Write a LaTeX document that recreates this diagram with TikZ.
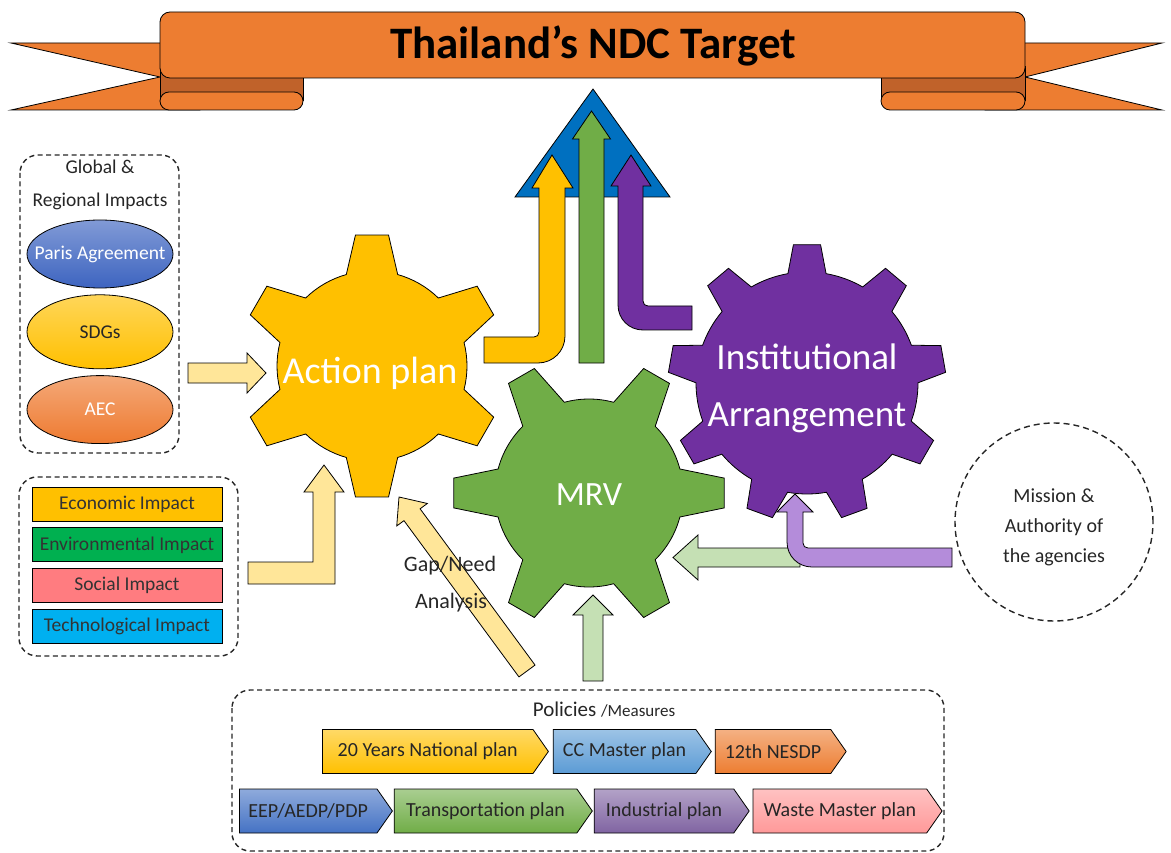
\documentclass[tikz,border=0pt]{standalone}
\usepackage{fontspec}
\setmainfont{Carlito}
\usepackage{tikz}
\usetikzlibrary{positioning,calc,shapes.geometric,shapes.symbols}

\definecolor{bandor}{HTML}{ED7D31}
\definecolor{folddk}{HTML}{C0622A}
\definecolor{ndcblue}{HTML}{0070C0}
\definecolor{gold}{HTML}{FFC000}
\definecolor{leaf}{HTML}{70AD47}
\definecolor{plum}{HTML}{7030A0}
\definecolor{paleyel}{HTML}{FFE699}
\definecolor{palegrn}{HTML}{C5E0B4}
\definecolor{palepur}{HTML}{B48CDA}
\definecolor{parisblue}{HTML}{3D64C0}
\definecolor{aecor}{HTML}{EE7A30}
\definecolor{envgreen}{HTML}{00B050}
\definecolor{socpink}{HTML}{FF7C80}
\definecolor{techblue}{HTML}{00B0F0}
\definecolor{ccblue}{HTML}{5B9BD5}
\definecolor{eepblue}{HTML}{4472C4}
\definecolor{indpurple}{HTML}{8064A2}
\definecolor{wastepink}{HTML}{FF9999}

\tikzset{
  outline/.style={draw=black, line width=0.8pt},
  dashbox/.style={draw=black!85, dash pattern=on 5pt off 3.5pt, line width=1.4pt, rounded corners=18pt},
  geartext/.style={text=white, font=\fontsize{38}{40}\selectfont},
  note/.style={text=black!85, font=\fontsize{19.5}{30}\selectfont},
  impact/.style={outline, minimum width=190pt, minimum height=34pt, inner sep=0pt, text=black!80, font=\fontsize{19.5}{22}\selectfont},
  oval/.style={ellipse, outline, minimum width=146pt, inner xsep=-15pt, inner ysep=0pt, font=\fontsize{19.5}{22}\selectfont},
  policy/.style={signal, signal to=east, signal from=nowhere, signal pointer angle=110, outline, minimum height=44pt, inner sep=0pt, text=black!85, font=\fontsize{20}{22}\selectfont},
}

% straight block arrow: style, from, to, half shaft, half head, head length
\newcommand{\blockarrow}[6][]{%
  \coordinate (ba-b) at ($(#3)!#6!(#2)$);
  \filldraw[#1] ($(#2)!#4!90:(#3)$) -- ($(ba-b)!#4!-90:(#2)$) -- ($(ba-b)!#5!-90:(#2)$) -- (#3)
    -- ($(ba-b)!#5!90:(#2)$) -- ($(ba-b)!#4!90:(#2)$) -- ($(#2)!#4!-90:(#3)$) -- cycle;
}

% gear: center, fill, teeth, body r, tip r, base half angle, tip half angle, first tooth
\newcommand{\gear}[8]{%
  \pgfmathsetmacro{\gstep}{360/#3}
  \filldraw[outline, fill=#2, shift={#1}] ({#8-#6}:#4)
    \foreach \k in {1,...,#3} {
      -- ({#8+(\k-1)*\gstep-#7}:#5) -- ({#8+(\k-1)*\gstep+#7}:#5) -- ({#8+(\k-1)*\gstep+#6}:#4)
      arc[start angle={#8+(\k-1)*\gstep+#6}, end angle={#8+\k*\gstep-#6}, radius=#4]
    } -- cycle;
}

\begin{document}
\begin{tikzpicture}[x=1pt, y=-1pt]
\useasboundingbox (0,0) rectangle (1171,853);

% banner
\filldraw[outline, fill=bandor] (200,43) -- (11,43) -- (160,77) -- (11,110) -- (200,110) -- cycle;
\filldraw[outline, fill=bandor] (985,43) -- (1162,43) -- (1025,77) -- (1162,110) -- (985,110) -- cycle;
\filldraw[outline, fill=folddk] (160,66) rectangle (303,100);
\filldraw[outline, fill=folddk] (881,66) rectangle (1025,100);
\filldraw[outline, fill=bandor, rounded corners=9pt] (160,92) rectangle (303,110);
\filldraw[outline, fill=bandor, rounded corners=9pt] (881,92) rectangle (1025,110);
\filldraw[outline, fill=bandor, rounded corners=10pt] (160,12) rectangle (1025,78);
\node[font=\bfseries\fontsize{45}{50}\selectfont] (title) at (593,46) {Thailand’s NDC Target};

% target
\filldraw[outline, fill=ndcblue] (593,89) -- (670,197) -- (515,197) -- cycle;
\filldraw[outline, fill=gold] (484,337) -- (534,337) .. controls (537,337) and (539,335) .. (539,332)
  -- (539,188) -- (532,188) -- (552,155) -- (573,188) -- (565,188) -- (565,336)
  .. controls (565,351) and (553,363) .. (538,363) -- (484,363) -- cycle;
\coordinate (mrvup) at (591.5,363);
\coordinate (goal) at (591.5,111);
\blockarrow[outline, fill=leaf]{mrvup}{goal}{12.5pt}{19pt}{28pt}
\filldraw[outline, fill=plum] (692,306) -- (648,306) .. controls (645,306) and (643,304) .. (643,301)
  -- (643,186) -- (651,186) -- (631,155) -- (611,186) -- (618,186) -- (618,305)
  .. controls (618,319) and (629,330) .. (643,330) -- (692,330) -- cycle;

% gears
\coordinate (actc) at (372,366);
\coordinate (mrvc) at (589,493);
\coordinate (instc) at (807,383);
\gear{(actc)}{gold}{6}{95}{132}{15.7}{7.2}{90}
\gear{(mrvc)}{leaf}{6}{94}{136}{14.8}{6.3}{0}
\gear{(instc)}{plum}{9}{111}{139}{9.9}{5.6}{-90}
\node[geartext, anchor=base] (act) at (370,383) {Action plan};
\node[geartext, anchor=base, font=\fontsize{34}{36}\selectfont] (mrv) at (589,505) {MRV};
\node[geartext, align=center, font=\fontsize{37}{57}\selectfont] (inst) at (807,388) {Institutional\\Arrangement};

% global & regional impacts
\draw[dashbox] (20,155) rectangle (179,453);
\node[note] (glob) at (100,167) {Global \&};
\node[note] (reg) at (100,201) {Regional Impacts};
\node[oval, minimum height=68pt, top color=parisblue!65!white, bottom color=parisblue, text=white] (paris) at (100,254) {Paris Agreement};
\node[oval, minimum height=74pt, below=6pt of paris, top color=gold!65!white, bottom color=gold, text=black!85] (sdg) {SDGs};
\node[oval, minimum height=68pt, below=6pt of sdg, top color=aecor!65!white, bottom color=aecor, text=white] (aec) {AEC};

% impacts
\draw[dashbox] (19,477) rectangle (238,656);
\node[impact, fill=gold] (econ) at (127,504) {Economic Impact};
\node[impact, fill=envgreen, below=6pt of econ] (envi) {Environmental Impact};
\node[impact, fill=socpink, below=6pt of envi] (soc) {Social Impact};
\node[impact, fill=techblue, below=6pt of soc] (tech) {Technological Impact};

% inputs
\coordinate (globout) at (188,373);
\coordinate (actin) at (266,373);
\blockarrow[outline, fill=paleyel]{globout}{actin}{10pt}{20pt}{19pt}
\filldraw[outline, fill=paleyel] (248,562) -- (313,562) -- (313,492) -- (304,492) -- (324,465)
  -- (344,492) -- (335,492) -- (335,584) -- (248,584) -- cycle;
\coordinate (gapfoot) at (527,671);
\coordinate (gaptip) at (399,497);
\blockarrow[outline, fill=paleyel]{gapfoot}{gaptip}{10pt}{19pt}{22pt}
\node[note, font=\fontsize{22}{24}\selectfont] (gap) at (450,566) {Gap/Need};
\node[note, font=\fontsize{22}{24}\selectfont] (ana) at (451,603) {Analysis};
\coordinate (polup) at (593,681);
\coordinate (mrvin) at (593,595);
\blockarrow[outline, fill=palegrn]{polup}{mrvin}{10pt}{20pt}{20pt}
\coordinate (misleft) at (800,557.5);
\coordinate (mrvside) at (673,557.5);
\blockarrow[outline, fill=palegrn]{misleft}{mrvside}{9.5pt}{22.5pt}{25pt}
\filldraw[outline, fill=palepur] (952,548) -- (808,548) .. controls (805,548) and (803,546) .. (803,543)
  -- (803,512) -- (813,512) -- (795,494) -- (777,512) -- (787,512) -- (787,542)
  .. controls (787,556) and (798,567) .. (812,567) -- (952,567) -- cycle;

% mission
\node[draw=black!85, circle, dash pattern=on 6pt off 4pt, line width=1.4pt, minimum size=198pt] (mission) at (1054,522) {};
\node[note, align=center, font=\fontsize{20}{30}\selectfont, yshift=-5pt] (mistext) at (mission.center) {Mission \&\\Authority of\\the agencies};

% policies
\draw[dashbox] (232,690) rectangle (944,851);
\node[note, font=\fontsize{21}{24}\selectfont] (polhead) at (604,710) {Policies {\fontsize{17}{20}\selectfont/Measures}};
\node[policy, anchor=west, minimum width=226pt, top color=gold!60!white, bottom color=gold] (nat) at (322,751.5) {20 Years National plan};
\node[policy, right=4pt of nat, minimum width=158pt, top color=ccblue!60!white, bottom color=ccblue] (ccm) {CC Master plan};
\node[policy, right=3pt of ccm, minimum width=131pt, top color=bandor!60!white, bottom color=bandor] (nesdp) {12th NESDP};
\node[policy, anchor=west, minimum width=153pt, top color=eepblue!60!white, bottom color=eepblue] (eep) at (239,811) {EEP/AEDP/PDP};
\node[policy, right=1pt of eep, minimum width=198pt, top color=leaf!60!white, bottom color=leaf] (trans) {Transportation plan};
\node[policy, right=1pt of trans, minimum width=155pt, top color=indpurple!60!white, bottom color=indpurple] (ind) {Industrial plan};
\node[policy, right=3pt of ind, minimum width=189pt, top color=wastepink!60!white, bottom color=wastepink] (waste) {Waste Master plan};
\end{tikzpicture}
\end{document}
